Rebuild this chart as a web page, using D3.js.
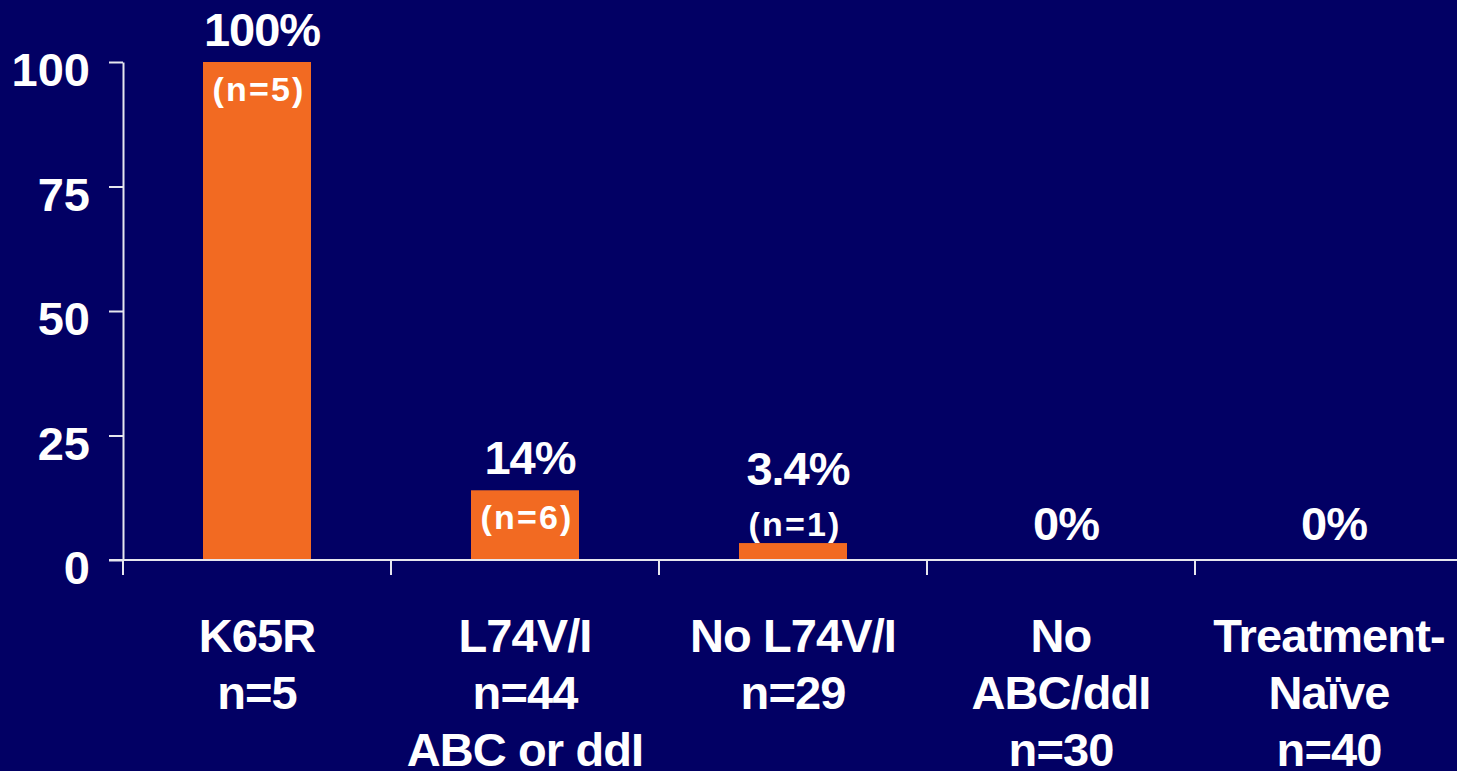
<!DOCTYPE html>
<html>
<head>
<meta charset="utf-8">
<script src="https://cdn.jsdelivr.net/npm/d3@7"></script>
<style>
  html, body { margin: 0; padding: 0; background: #020064; overflow: hidden; }
  svg { display: block; }
  text { font-family: "Liberation Sans", Arial, Helvetica, sans-serif; font-weight: bold; fill: #ffffff; }
</style>
</head>
<body>
<svg id="chart" width="1457" height="771"></svg>
<script>
// Groups on the x axis, each drawn as stacked label lines
const groupKeys = ["K65R", "L74V", "NoL74V", "NoABC", "Naive"];
const groupLabels = [
  ["K65R", "n=5"],
  ["L74V/I", "n=44", "ABC or ddI"],
  ["No L74V/I", "n=29"],
  ["No", "ABC/ddI", "n=30"],
  ["Treatment-", "Naïve", "n=40"]
];
// Percentage of patients in each group
const percentValues = [100, 14, 3.4, 0, 0];
const percentLabels = ["100%", "14%", "3.4%", "0%", "0%"];
// Count behind each percentage (null where none is shown)
const countLabels = ["(n=5)", "(n=6)", "(n=1)", null, null];
// Y axis ticks
const yTicks = [0, 25, 50, 75, 100];

const svg = d3.select("#chart");
const W = 1457, H = 771;

svg.append("rect").attr("width", W).attr("height", H).attr("fill", "#020064");

const left = 123, step = 268;
const xBands = d3.scaleBand().domain(groupKeys).range([left, left + step * groupKeys.length]).padding(0);
const xBars = d3.scaleBand().domain(groupKeys).range([left, left + step * groupKeys.length])
  .paddingInner(0.597).paddingOuter(0.2985);
const y = d3.scaleLinear().domain([0, 100]).range([560, 62]);

const axisColor = "#e6e6ee";

// Bars
const data = groupKeys.map((k, i) => ({
  key: k, value: percentValues[i], pct: percentLabels[i], n: countLabels[i], lines: groupLabels[i]
}));

svg.append("g").selectAll("rect").data(data.filter(d => d.value > 0)).join("rect")
  .attr("x", d => xBars(d.key))
  .attr("y", d => y(d.value))
  .attr("width", xBars.bandwidth())
  .attr("height", d => y(0) - y(d.value))
  .attr("fill", "#f26a22");

// Y axis
const yAxis = d3.axisLeft(y).tickValues(yTicks).tickSize(14).tickSizeOuter(0).tickPadding(19);
const gy = svg.append("g").attr("transform", `translate(${left},0)`).call(yAxis);
gy.select(".domain").attr("stroke", axisColor).attr("stroke-width", 2);
gy.selectAll(".tick line").attr("stroke", axisColor).attr("stroke-width", 2);
gy.selectAll(".tick text")
  .attr("fill", "#ffffff")
  .attr("font-size", 47)
  .attr("font-family", "'Liberation Sans', Arial, sans-serif")
  .attr("font-weight", "bold")
  .attr("dy", "0.5em");

// X axis baseline and band separators
svg.append("line")
  .attr("x1", left - 14).attr("x2", W)
  .attr("y1", y(0)).attr("y2", y(0))
  .attr("stroke", axisColor).attr("stroke-width", 2);
svg.append("g").selectAll("line").data(groupKeys).join("line")
  .attr("x1", d => xBands(d)).attr("x2", d => xBands(d))
  .attr("y1", y(0)).attr("y2", y(0) + 15)
  .attr("stroke", axisColor).attr("stroke-width", 2);

// Category labels
const lineGap = 57;
const cats = svg.append("g").selectAll("text").data(data).join("text")
  .attr("text-anchor", "middle")
  .attr("font-size", 47)
  .attr("letter-spacing", -0.9)
  .attr("x", d => xBands(d.key) + xBands.bandwidth() / 2)
  .attr("y", 652);
cats.selectAll("tspan").data(d => d.lines.map(t => ({ t, x: xBands(d.key) + xBands.bandwidth() / 2 }))).join("tspan")
  .attr("x", d => d.x)
  .attr("dy", (d, i) => i === 0 ? 0 : lineGap)
  .text(d => d.t);

// Value labels: count inside tall bars, otherwise stacked above
const valueG = svg.append("g");
data.forEach(d => {
  const cx = xBars(d.key) + xBars.bandwidth() / 2;
  const top = y(d.value);
  let pctBase;
  if (d.n) {
    const inside = (y(0) - top) > 60;
    const nBase = inside ? top + 39 : top - 7;
    valueG.append("text")
      .attr("x", cx + 2).attr("y", nBase)
      .attr("text-anchor", "middle")
      .attr("font-size", 34)
      .attr("letter-spacing", 2.2)
      .text(d.n);
    pctBase = inside ? top - 16 : nBase - 51;
  } else {
    pctBase = top - 20;
  }
  valueG.append("text")
    .attr("x", cx + 5).attr("y", pctBase)
    .attr("text-anchor", "middle")
    .attr("font-size", 47)
    .attr("letter-spacing", -1)
    .text(d.pct);
});
</script>
</body>
</html>
